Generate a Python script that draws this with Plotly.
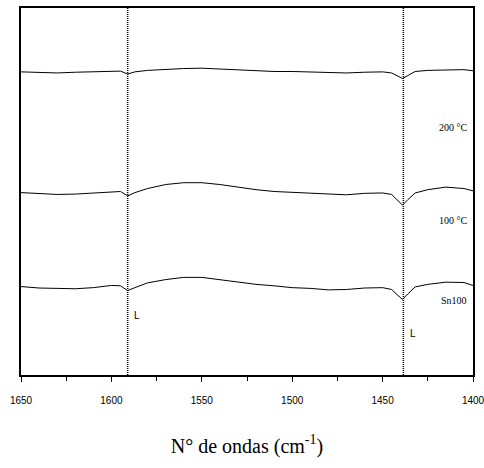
import plotly.graph_objects as go

wavenumber = [1650, 1640, 1630, 1620, 1610, 1600, 1595, 1591, 1587, 1580, 1570, 1560,
              1550, 1540, 1530, 1520, 1510, 1500, 1490, 1480, 1470, 1460, 1450, 1445,
              1442, 1439, 1436, 1432, 1425, 1415, 1405, 1400]

t200 = [82.6, 82.4, 82.3, 82.5, 82.6, 82.7, 82.8, 82.0, 82.6, 83.0, 83.3, 83.5,
        83.6, 83.4, 83.1, 82.8, 82.7, 82.7, 82.6, 82.4, 82.3, 82.5, 82.6, 82.3,
        81.6, 80.8, 81.6, 82.7, 83.0, 83.2, 83.2, 82.9]

t100 = [49.7, 49.5, 49.2, 49.3, 49.6, 50.0, 50.0, 48.8, 49.7, 50.8, 51.9, 52.4,
        52.4, 51.9, 51.1, 50.5, 50.0, 49.8, 49.6, 49.2, 49.1, 49.5, 49.6, 49.2,
        47.7, 46.3, 47.8, 49.6, 50.5, 51.2, 50.8, 50.2]

sn100 = [24.1, 23.7, 23.6, 23.5, 23.8, 24.4, 24.3, 23.0, 23.8, 25.1, 26.0, 26.6,
         26.6, 26.0, 25.2, 24.7, 24.3, 23.8, 23.6, 23.2, 23.3, 23.7, 23.8, 23.3,
         21.9, 20.6, 22.1, 24.0, 24.7, 25.3, 25.2, 24.4]

series_names = ["200 °C", "100 °C", "Sn100"]
label_y = [67.5, 42.0, 20.4]
band_positions = [1591, 1438.5]
band_labels = ["L", "L"]
band_label_y = [16.3, 11.4]
x_ticks = [1650, 1600, 1550, 1500, 1450, 1400]

SERIF = "Times New Roman, Liberation Serif, serif"
SANS = "Arial, Liberation Sans, sans-serif"

fig = go.Figure()
for ys, name in zip([t200, t100, sn100], series_names):
    fig.add_trace(go.Scatter(x=wavenumber, y=ys, mode="lines", name=name,
                             line=dict(color="black", width=1), showlegend=False))

for xb in band_positions:
    fig.add_shape(type="line", x0=xb, x1=xb, y0=0, y1=1, xref="x", yref="paper",
                  line=dict(color="black", width=1.5, dash="1px,1px"))

for name, yl in zip(series_names, label_y):
    fig.add_annotation(x=1402, y=yl, text=name, showarrow=False, xanchor="right",
                       font=dict(family=SERIF, size=10, color="black"))

for xb, lab, yl in zip(band_positions, band_labels, band_label_y):
    fig.add_annotation(x=xb - 2.5, y=yl, text=lab, showarrow=False, xanchor="left",
                       font=dict(family=SANS, size=10, color="black"))

fig.update_layout(
    width=484, height=468,
    margin=dict(l=21, r=11, t=8, b=93),
    paper_bgcolor="white", plot_bgcolor="white",
    xaxis=dict(range=[1650, 1400], tickvals=x_ticks, ticks="outside", ticklen=5,
               tickwidth=1, tickcolor="black", ticklabeloverflow="allow",
               ticklabelstandoff=10,
               minor=dict(dtick=25, tick0=1400, ticks="outside", ticklen=4, tickcolor="black"),
               showline=True, linecolor="black", linewidth=1.5, mirror=True,
               showgrid=False, zeroline=False, automargin=False,
               tickfont=dict(family=SANS, size=10, color="black"),
               title=dict(text="N° de ondas (cm<sup>-1</sup>)", standoff=34,
                          font=dict(family=SERIF, size=20, color="black"))),
    yaxis=dict(range=[0, 100], showticklabels=False, ticks="", showgrid=False,
               zeroline=False, showline=True, linecolor="black", linewidth=1.5,
               mirror=True),
)

fig.write_html("out.html")
